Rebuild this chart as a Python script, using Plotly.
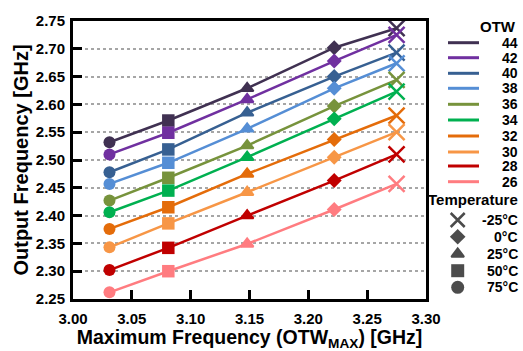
import plotly.graph_objects as go

# ---- data ----
otw_codes = [44, 42, 40, 38, 36, 34, 32, 30, 28, 26]
colors = ["#403152", "#7030a0", "#376092", "#558ed5", "#77933c",
          "#00b050", "#e46c0a", "#f79646", "#c00000", "#ff7c80"]
temperatures = ["75°C", "50°C", "25°C", "0°C", "-25°C"]
temp_symbols = ["circle", "square", "triangle-up", "diamond", "x-thin"]
max_freq = [3.031, 3.081, 3.148, 3.222, 3.275]   # OTW_MAX frequency per temperature
out_freq = {
    44: [2.532, 2.571, 2.629, 2.702, 2.737],
    42: [2.510, 2.549, 2.609, 2.678, 2.725],
    40: [2.478, 2.519, 2.585, 2.650, 2.693],
    38: [2.457, 2.495, 2.556, 2.629, 2.674],
    36: [2.427, 2.468, 2.526, 2.597, 2.644],
    34: [2.406, 2.445, 2.505, 2.574, 2.623],
    32: [2.376, 2.415, 2.475, 2.537, 2.580],
    30: [2.343, 2.386, 2.442, 2.505, 2.550],
    28: [2.302, 2.342, 2.400, 2.463, 2.510],
    26: [2.262, 2.300, 2.349, 2.411, 2.457],
}
x_ticks = [3.00, 3.05, 3.10, 3.15, 3.20, 3.25, 3.30]
y_ticks = [2.25, 2.30, 2.35, 2.40, 2.45, 2.50, 2.55, 2.60, 2.65, 2.70, 2.75]

FONT = "Arial, Liberation Sans, sans-serif"
W, H = 523, 351
ML, MT, MB = 73, 21, 52
PLOT_R = 426  # right edge of main plot in px
plot_w = W - ML

sym_sizes = [12, 12.5, 11, 11.5, 16]
sym_lw = [0, 0, 2, 0, 2.5]

fig = go.Figure()
for code, col in zip(otw_codes, colors):
    fig.add_trace(go.Scatter(
        x=max_freq, y=out_freq[code], mode="lines+markers",
        line=dict(color=col, width=2.5),
        marker=dict(symbol=temp_symbols, color=col, size=sym_sizes, opacity=1,
                    line=dict(color=col, width=sym_lw)),
        showlegend=False, cliponaxis=False,
    ))

# ---- custom legend drawn on an auxiliary pixel-unit axis ----
leg_y = [42.7, 57.7, 73.3, 88.3, 104.3, 120, 136, 152, 166, 181.7]
temp_leg_y = [287.3, 270.7, 254, 236.7, 220]  # order matches temperatures
LEG_FONT = dict(family=FONT, size=14, color="black", weight="bold")
shapes = []
annotations = []
annotations.append(dict(x=498, y=26, xref="x2", yref="y2", text="OTW", showarrow=False,
                        font=dict(family=FONT, size=15, color="black", weight="bold")))
for code, col, yy in zip(otw_codes, colors, leg_y):
    shapes.append(dict(type="line", xref="x2", yref="y2", x0=448, x1=479, y0=yy, y1=yy,
                       line=dict(color=col, width=3)))
    annotations.append(dict(x=520, y=yy, xref="x2", yref="y2", text=str(code), showarrow=False,
                            xanchor="right", font=LEG_FONT))
annotations.append(dict(x=473, y=199.5, xref="x2", yref="y2", text="Temperature", showarrow=False,
                        font=dict(family=FONT, size=15, color="black", weight="bold")))
for t, yy in zip(temperatures, temp_leg_y):
    annotations.append(dict(x=520, y=yy, xref="x2", yref="y2", text=t, showarrow=False,
                            xanchor="right", font=LEG_FONT))
fig.add_trace(go.Scatter(
    x=[457.7] * 5, y=temp_leg_y, xaxis="x2", yaxis="y2", mode="markers",
    marker=dict(symbol=temp_symbols, color="black", size=[13, 13, 11, 12, 14],
                line=dict(color="black", width=sym_lw)),
    showlegend=False, cliponaxis=False, hoverinfo="skip",
))

dom_r = (PLOT_R - ML) / plot_w
fig.update_layout(
    template="none",
    width=W, height=H, autosize=False,
    margin=dict(l=ML, r=0, t=MT, b=MB, pad=0, autoexpand=False),
    paper_bgcolor="white", plot_bgcolor="white",
    font=dict(family=FONT, color="black"),
    shapes=shapes, annotations=annotations,
    xaxis=dict(domain=[0, dom_r], range=[3.0, 3.3], tickvals=x_ticks,
               ticktext=[f"{v:.2f}" for v in x_ticks], automargin=False,
               ticks="inside", ticklen=9, tickwidth=3, tickcolor="black",
               showline=True, linewidth=3, linecolor="black", mirror=True,
               showgrid=False, zeroline=False,
               tickfont=dict(family=FONT, size=15, color="black", weight="bold"),
               ticklabelstandoff=4,
               title=dict(text="Maximum Frequency (OTW<sub>MAX</sub>) [GHz]", standoff=8,
                          font=dict(family=FONT, size=19.5, color="black", weight="bold"))),
    yaxis=dict(domain=[0, 1], range=[2.25, 2.75], tickvals=y_ticks,
               ticktext=[f"{v:.2f}" for v in y_ticks], automargin=False,
               ticks="inside", ticklen=9, tickwidth=3, tickcolor="black",
               showline=True, linewidth=3, linecolor="black", mirror=True,
               showgrid=True, gridcolor="#a6a6a6", gridwidth=2, griddash="dot",
               zeroline=False,
               tickfont=dict(family=FONT, size=15, color="black", weight="bold"),
               ticklabelstandoff=2,
               title=dict(text="Output Frequency [GHz]", standoff=2,
                          font=dict(family=FONT, size=20, color="black", weight="bold"))),
    xaxis2=dict(domain=[dom_r, 1], range=[PLOT_R, W], visible=False, anchor="y2",
                automargin=False),
    yaxis2=dict(domain=[0, 1], range=[H - MB, MT], visible=False, anchor="x2",
                automargin=False),
)

fig.write_html("out.html", config={"responsive": False})
